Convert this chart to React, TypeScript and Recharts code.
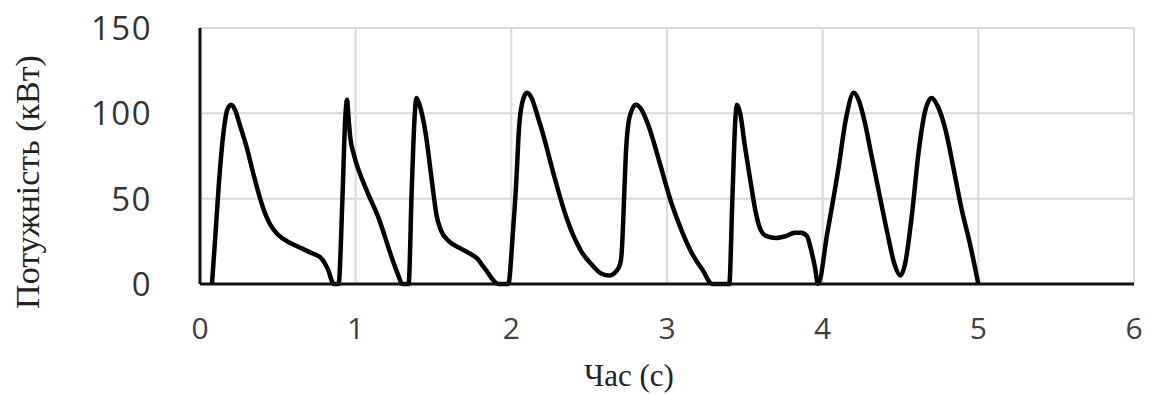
import React from 'react'
import { LineChart, Line, XAxis, YAxis, CartesianGrid, Label } from 'recharts'

// time in seconds, power in kW
const time = [
  0.077, 0.1, 0.12, 0.15, 0.175, 0.2, 0.225, 0.26, 0.3, 0.35, 0.4, 0.45, 0.5, 0.58, 0.65, 0.72, 0.78, 0.82, 0.86,
  0.89, 0.915, 0.932, 0.945, 0.952, 0.965, 0.985, 1.0, 1.07, 1.15, 1.23, 1.27, 1.3,
  1.34, 1.36, 1.38, 1.39, 1.41, 1.45, 1.49, 1.52, 1.55, 1.6, 1.67, 1.73, 1.78, 1.83, 1.92,
  1.98, 2.01, 2.03, 2.05, 2.075, 2.1, 2.13, 2.17, 2.2, 2.27, 2.35, 2.4, 2.45, 2.52, 2.58, 2.63, 2.67, 2.7,
  2.71, 2.72, 2.735, 2.76, 2.8, 2.83, 2.88, 2.95, 3.03, 3.1, 3.16, 3.23, 3.29,
  3.4, 3.42, 3.44, 3.45, 3.47, 3.5, 3.54, 3.57, 3.6, 3.64, 3.7, 3.76, 3.82, 3.86, 3.9, 3.92, 3.95, 3.97,
  4.03, 4.1, 4.15, 4.2, 4.23, 4.27, 4.31, 4.37, 4.42, 4.46, 4.5, 4.53, 4.57, 4.62, 4.66, 4.7, 4.74, 4.79, 4.84, 4.89, 4.95, 5.0,
]
const power = [
  0, 30, 57, 88, 102, 105, 102, 92, 80, 62, 46, 35, 29, 24, 21, 18, 15, 9, 0,
  0, 50, 95, 108, 100, 86, 77, 72, 55, 38, 16, 6, 0,
  0, 55, 100, 109, 105, 88, 60, 40, 31, 25, 21, 18, 15, 9, 0,
  0, 30, 57, 92, 108, 112, 109, 98, 89, 65, 40, 28, 19, 11, 6, 5, 7, 12,
  20, 40, 75, 98, 105, 103, 93, 72, 47, 30, 18, 8, 0,
  0, 50, 98, 105, 100, 81, 58, 42, 32, 28, 27, 28, 30, 30, 28, 22, 10, 0,
  30, 67, 97, 112, 108, 95, 77, 50, 28, 12, 5, 12, 38, 80, 102, 109, 104, 90, 68, 45, 22, 0,
]
const xTicks = [0, 1, 2, 3, 4, 5, 6]
const yTicks = [0, 50, 100, 150]

const data = time.map((t, i) => ({ t, p: power[i] }))

const XTick = (props: any) => {
  const { x, y, payload } = props
  return (
    <text x={x} y={y + 47} textAnchor="middle" fill="#404040" fontFamily="Open Sans" fontSize={30}>
      {payload.value}
    </text>
  )
}

const YTick = (props: any) => {
  const { x, y, payload } = props
  return (
    <text x={x - 40} y={y + 12} textAnchor="end" fill="#333" fontFamily="Open Sans" fontSize={33} letterSpacing={1.5}>
      {payload.value}
    </text>
  )
}

export default function App() {
  return (
    <div style={{ position: 'fixed', left: 0, top: 0, width: 1155, height: 394, background: '#fff' }}>
      <LineChart width={1155} height={394} data={data} margin={{ top: 28, right: 21, left: 0, bottom: 0 }}>
        <CartesianGrid stroke="#d9d9d9" strokeWidth={2} />
        <XAxis
          dataKey="t"
          type="number"
          domain={[0, 6]}
          ticks={xTicks}
          height={110}
          tick={<XTick />}
          tickLine={false}
          axisLine={{ stroke: '#111', strokeWidth: 3 }}
        >
          <Label
            value="Час (с)"
            position="insideBottom"
            dx={-38}
            offset={8}
            style={{ fontFamily: 'Liberation Serif', fontSize: 31, fill: '#222' }}
          />
        </XAxis>
        <YAxis
          type="number"
          domain={[0, 150]}
          ticks={yTicks}
          width={200}
          tick={<YTick />}
          tickLine={false}
          axisLine={{ stroke: '#111', strokeWidth: 3 }}
        >
          <Label
            value="Потужність (кВт)"
            angle={-90}
            position="insideLeft"
            dx={22}
            dy={26}
            style={{ textAnchor: 'middle', fontFamily: 'Liberation Serif', fontSize: 34, fill: '#222' }}
          />
        </YAxis>
        <Line
          type="monotone"
          dataKey="p"
          stroke="#000"
          strokeWidth={4.5}
          dot={false}
          isAnimationActive={false}
        />
      </LineChart>
    </div>
  )
}
